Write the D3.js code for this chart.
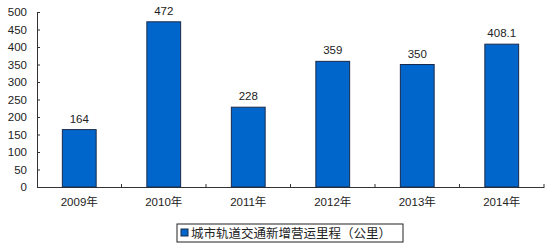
<!DOCTYPE html>
<html>
<head>
<meta charset="utf-8">
<script src="https://cdn.jsdelivr.net/npm/d3@7"></script>
<style>
  body { margin: 0; background: #fff; }
  text { font-family: "Liberation Sans", "Noto Sans CJK SC", sans-serif; fill: #222; }
</style>
</head>
<body>
<div id="chart"></div>
<script>
var years = ["2009年", "2010年", "2011年", "2012年", "2013年", "2014年"];
var values = [164, 472, 228, 359, 350, 408.1];
var yTicks = [0, 50, 100, 150, 200, 250, 300, 350, 400, 450, 500];
var seriesName = "城市轨道交通新增营运里程（公里）";

var width = 546, height = 247;
var margin = { left: 37, right: 2, top: 12, bottom: 60 };

var svg = d3.select("#chart").append("svg")
  .attr("width", width)
  .attr("height", height);

var x = d3.scaleBand()
  .domain(years)
  .range([margin.left, width - margin.right])
  .paddingInner(0)
  .paddingOuter(0);

var y = d3.scaleLinear()
  .domain([0, 500])
  .range([height - margin.bottom, margin.top]);

// y axis
var yAxis = svg.append("g")
  .attr("transform", "translate(" + margin.left + ",0)")
  .call(d3.axisLeft(y).tickValues(yTicks).tickSize(-3).tickPadding(10));
yAxis.select(".domain").attr("stroke", "#333");
yAxis.selectAll(".tick line").attr("stroke", "#333");
yAxis.selectAll("text").style("font-size", "11.5px").attr("fill", "#222");

// x axis
var xAxis = svg.append("g")
  .attr("transform", "translate(0," + y(0) + ")")
  .call(d3.axisBottom(x).tickSize(0).tickPadding(11));
xAxis.select(".domain").attr("stroke", "#333");
xAxis.selectAll("text").style("font-size", "11.5px").attr("fill", "#222");

// category separators on x axis
svg.append("g").selectAll("line")
  .data(years)
  .enter()
  .append("line")
  .attr("x1", function (d) { return x(d) + x.bandwidth(); })
  .attr("x2", function (d) { return x(d) + x.bandwidth(); })
  .attr("y1", y(0))
  .attr("y2", y(0) - 3)
  .attr("stroke", "#333");

// bars
var barW = x.bandwidth() * 0.4;
svg.append("g").selectAll("rect")
  .data(values)
  .enter()
  .append("rect")
  .attr("x", function (d, i) { return x(years[i]) + (x.bandwidth() - barW) / 2; })
  .attr("y", function (d) { return y(d); })
  .attr("width", barW)
  .attr("height", function (d) { return y(0) - y(d); })
  .attr("fill", "#0066CC")
  .attr("stroke", "#1a2a4a")
  .attr("stroke-width", 1);

// value labels
svg.append("g").selectAll("text")
  .data(values)
  .enter()
  .append("text")
  .attr("x", function (d, i) { return x(years[i]) + x.bandwidth() / 2; })
  .attr("y", function (d) { return y(d) - 7; })
  .attr("text-anchor", "middle")
  .style("font-size", "11.5px")
  .text(function (d) { return d; });

// legend
var legend = svg.append("g").attr("transform", "translate(177,224)");
legend.append("rect")
  .attr("x", 0).attr("y", 0)
  .attr("width", 226).attr("height", 18)
  .attr("fill", "#fff")
  .attr("stroke", "#222");
legend.append("rect")
  .attr("x", 4).attr("y", 5)
  .attr("width", 7).attr("height", 7)
  .attr("fill", "#0066CC")
  .attr("stroke", "#1a2a4a");
legend.append("text")
  .attr("x", 14).attr("y", 14)
  .style("font-size", "12.5px")
  .text(seriesName);
</script>
</body>
</html>
